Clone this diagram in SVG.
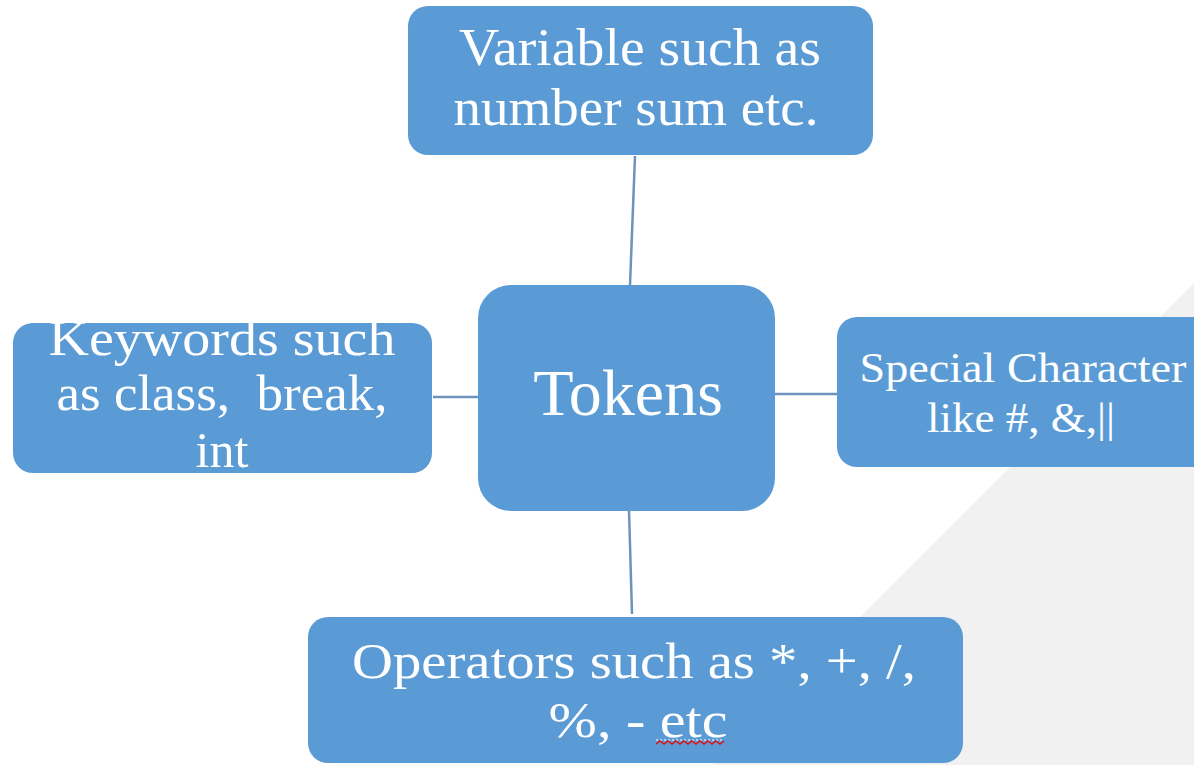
<svg xmlns="http://www.w3.org/2000/svg" width="1194" height="765" viewBox="0 0 1194 765">
  <style>
    .box { fill: #5b9bd5; }
    .lbl { font-family: "Liberation Serif", "Times New Roman", serif; fill: #ffffff; text-anchor: middle; }
    .link { stroke: #6b93bb; stroke-width: 2.5; fill: none; }
  </style>
  <!-- page background with the pale diagonal panel at lower right -->
  <rect x="0" y="0" width="1194" height="765" fill="#ffffff"/>
  <polygon points="1194,283 1194,765 712,765" fill="#f1f1f1"/>

  <g id="connectors">
    <line class="link" x1="635" y1="156" x2="630" y2="285"/>
    <line class="link" x1="629" y1="510" x2="632" y2="614"/>
    <line class="link" x1="433" y1="397" x2="479" y2="397"/>
    <line class="link" x1="775" y1="394" x2="837" y2="394"/>
  </g>

  <g id="node-variable">
    <rect class="box" x="408" y="6" width="465" height="149" rx="20"/>
    <text class="lbl" font-size="52" x="640" y="65" textLength="362" lengthAdjust="spacingAndGlyphs">Variable such as</text>
    <text class="lbl" font-size="52" x="636" y="125" textLength="365" lengthAdjust="spacingAndGlyphs">number sum etc.</text>
  </g>

  <g id="node-tokens">
    <rect class="box" x="478" y="285" width="297" height="226" rx="33"/>
    <text class="lbl" font-size="66" x="628" y="415">Tokens</text>
  </g>

  <g id="node-keywords">
    <rect class="box" x="13" y="323" width="419" height="150" rx="20"/>
    <text class="lbl" font-size="50" x="222" y="355" textLength="347" lengthAdjust="spacingAndGlyphs">Keywords such</text>
    <text class="lbl" font-size="50" x="222" y="410" textLength="331" lengthAdjust="spacingAndGlyphs" xml:space="preserve">as class,  break,</text>
    <text class="lbl" font-size="50" x="222" y="467">int</text>
  </g>

  <g id="node-special">
    <rect class="box" x="837" y="317" width="380" height="150" rx="20"/>
    <text class="lbl" font-size="42" x="1023" y="382" textLength="327" lengthAdjust="spacingAndGlyphs">Special Character</text>
    <text class="lbl" font-size="42" x="1021" y="432" textLength="188" lengthAdjust="spacingAndGlyphs">like #, &amp;,||</text>
  </g>

  <g id="node-operators">
    <rect class="box" x="308" y="617" width="655" height="146" rx="20"/>
    <text class="lbl" font-size="50" x="634" y="678" textLength="564" lengthAdjust="spacingAndGlyphs">Operators such as *, +, /,</text>
    <text class="lbl" font-size="50" x="638" y="737" textLength="179" lengthAdjust="spacingAndGlyphs">%, - etc</text>
    <!-- dotted underline and spell-check squiggle under "etc" -->
    <line x1="656" y1="740" x2="724" y2="740" stroke="#ffffff" stroke-width="1.2" stroke-dasharray="2 2"/>
    <path d="M656,744 l4,-3 l4,3 l4,-3 l4,3 l4,-3 l4,3 l4,-3 l4,3 l4,-3 l4,3 l4,-3 l4,3 l4,-3 l4,3 l4,-3 l4,3 l4,-3" fill="none" stroke="#e01010" stroke-width="1.5"/>
  </g>
</svg>
